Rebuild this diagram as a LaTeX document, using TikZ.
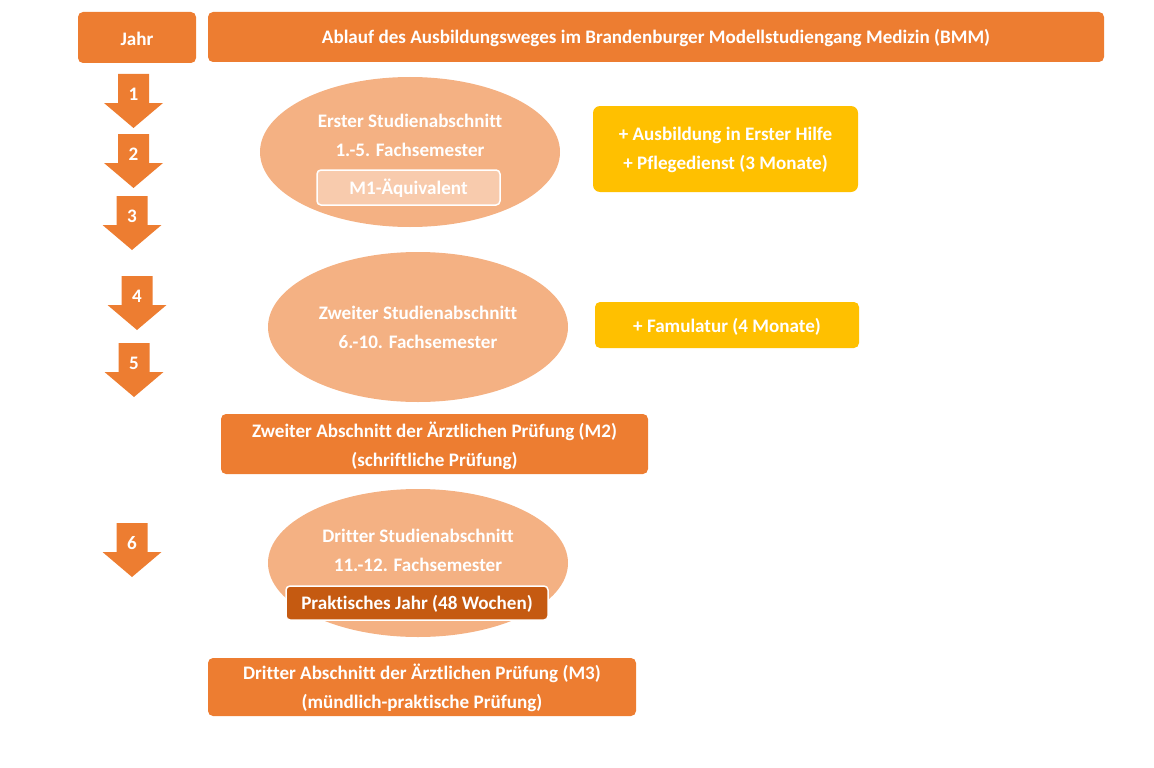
\documentclass[tikz,border=0pt]{standalone}
\usepackage{fontspec}
\setmainfont{Carlito}[Ligatures=NoCommon]
\definecolor{org}{HTML}{ED7D31}
\definecolor{lorg}{HTML}{F4B183}
\definecolor{plorg}{HTML}{F8CBAD}
\definecolor{dorg}{HTML}{C55A11}
\definecolor{yel}{HTML}{FFC000}
\begin{document}
\begin{tikzpicture}[x=1pt,y=-1pt,
  every node/.style={font=\fontsize{19.1}{29}\selectfont\bfseries, text=white, align=center, inner sep=0pt},
  box/.style={fill=org, rounded corners=5pt},
  ybox/.style={fill=yel, rounded corners=7pt}]
\useasboundingbox (0,0) rectangle (1154,768);
\newcommand{\yarrow}[4]{% x center, y top, label, name
  \fill[org] (#1-15.5,#2) -- (#1+15.5,#2) -- (#1+15.5,#2+29) -- (#1+29.5,#2+29) -- (#1,#2+54) -- (#1-29.5,#2+29) -- (#1-15.5,#2+29) -- cycle;
  \node (#4) at (#1,#2+20) {#3};}
\fill[box] (78,12) rectangle (196,63);
\node (jahr) at (137,39) {Jahr};
\fill[box] (208,12) rectangle (1104,62);
\node (title) at (656,38.5) {Ablauf des Ausbildungsweges im Brandenburger Modellstudiengang Medizin (BMM)};
\yarrow{133.5}{74}{1}{a1}
\yarrow{133.5}{134}{2}{a2}
\yarrow{132}{196}{3}{a3}
\yarrow{137}{276}{4}{a4}
\yarrow{134}{343}{5}{a5}
\yarrow{132}{523}{6}{a6}
\fill[lorg] (410,152) ellipse [x radius=150, y radius=75];
\node (e1) at (410,135.5) {Erster Studienabschnitt\\1.-5. Fachsemester};
\fill[plorg, draw=white, line width=1.5pt, rounded corners=4pt] (317,170) rectangle (500,205);
\node (m1) at (408.5,188.5) {M1-Äquivalent};
\fill[ybox] (593,106) rectangle (858,192);
\node (y1) at (725.5,149.5) {+ Ausbildung in Erster Hilfe\\+ Pflegedienst (3 Monate)};
\fill[lorg] (418,327) ellipse [x radius=150, y radius=75];
\node (e2) at (418,327.5) {Zweiter Studienabschnitt\\6.-10. Fachsemester};
\fill[ybox,rounded corners=5pt] (595,302) rectangle (859,348);
\node (y2) at (727,326.5) {+ Famulatur (4 Monate)};
\fill[box] (221,414) rectangle (648,474);
\node (m2) at (434.5,446) {Zweiter Abschnitt der Ärztlichen Prüfung (M2)\\(schriftliche Prüfung)};
\fill[lorg] (418,563) ellipse [x radius=150, y radius=74];
\node (e3) at (418,550.5) {Dritter Studienabschnitt\\11.-12. Fachsemester};
\fill[dorg, draw=white, line width=1.5pt, rounded corners=4pt] (286,586) rectangle (548,620);
\node (pj) at (417,604) {Praktisches Jahr (48 Wochen)};
\fill[box] (208,658) rectangle (636,716);
\node (m3) at (422,688) {Dritter Abschnitt der Ärztlichen Prüfung (M3)\\(mündlich-praktische Prüfung)};
\end{tikzpicture}
\end{document}
